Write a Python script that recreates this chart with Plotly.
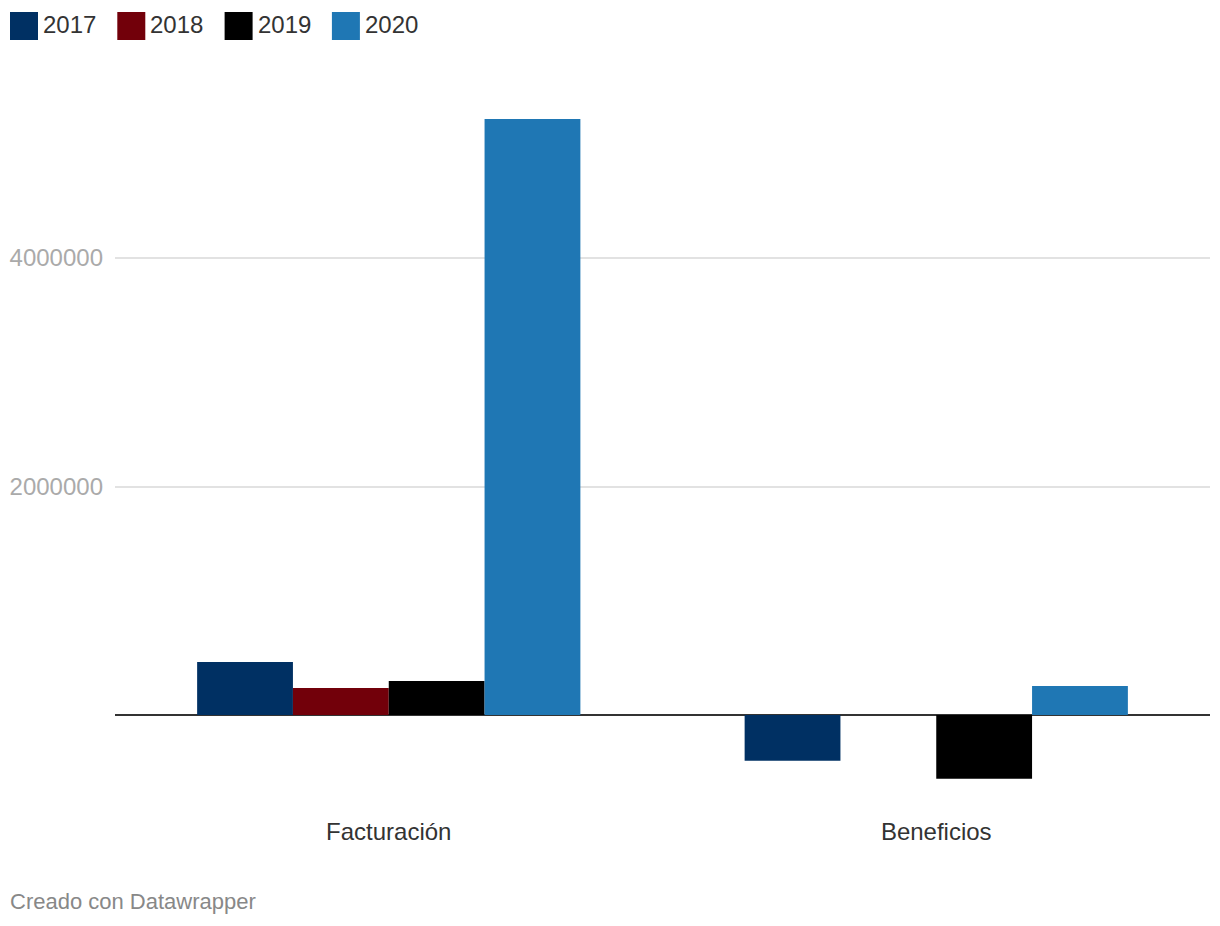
import plotly.graph_objects as go

categories = ["Facturación", "Beneficios"]
series_names = ["2017", "2018", "2019", "2020"]
values_2017 = [464000, -400000]
values_2018 = [236000, None]
values_2019 = [298000, -557000]
values_2020 = [5217000, 254000]
series_values = [values_2017, values_2018, values_2019, values_2020]
series_colors = ["#003063", "#72000a", "#000000", "#1f77b4"]
y_tick_values = [2000000, 4000000]
y_tick_labels = ["2000000", "4000000"]
footnote = "Creado con Datawrapper"

W, H = 1220, 926
# desired on-screen pixel positions of the plot area
SL, SR, ST, SB = 115, 1210, 100, 800
ZERO = 715
per_px = 4000000 / 457.0
y_top = (ZERO - ST) * per_px
y_bot = -(SB - ZERO) * per_px

FONT = "Liberation Sans, Arial, Helvetica, sans-serif"

fig = go.Figure()
for name, vals, col in zip(series_names, series_values, series_colors):
    fig.add_trace(go.Bar(x=categories, y=vals, name=name, marker=dict(color=col, line=dict(width=0)),
                         showlegend=False))

def px_x(p):
    return (p - SL) / (SR - SL)

def px_y(p):
    return (SB - p) / (SB - ST)

shapes = []
annotations = []
for i, (name, col) in enumerate(zip(series_names, series_colors)):
    x0 = 10 + i * 107.3
    shapes.append(dict(type="rect", xref="paper", yref="paper",
                       x0=px_x(x0), x1=px_x(x0 + 28), y0=px_y(40), y1=px_y(12),
                       fillcolor=col, line=dict(width=0), layer="above"))
    annotations.append(dict(xref="paper", yref="paper", x=px_x(x0 + 31), y=px_y(25),
                            xanchor="left", yanchor="middle", text=name, showarrow=False,
                            font=dict(family=FONT, size=24, color="#333333")))

annotations.append(dict(xref="paper", yref="paper", x=px_x(8), y=px_y(901),
                        xanchor="left", yanchor="middle", text=footnote, showarrow=False,
                        font=dict(family=FONT, size=22, color="#888888")))

fig.update_layout(
    width=W, height=H,
    margin=dict(l=SL, r=W - SR, t=ST, b=H - SB, pad=0),
    paper_bgcolor="white", plot_bgcolor="white",
    barmode="group", bargap=0.3, bargroupgap=0,
    font=dict(family=FONT, color="#333333"),
    shapes=shapes, annotations=annotations,
    xaxis=dict(showgrid=False, showline=False, zeroline=False, ticks="", automargin=False,
               tickfont=dict(family=FONT, size=24, color="#333333"),
               ticklabelstandoff=15),
    yaxis=dict(range=[y_bot, y_top], tickvals=y_tick_values, ticktext=y_tick_labels,
               showgrid=True, gridcolor="#e2e2e2", gridwidth=1.5, automargin=False,
               zeroline=True, zerolinecolor="#333333", zerolinewidth=2,
               showline=False, ticks="", ticklabelstandoff=11,
               tickfont=dict(family=FONT, size=24, color="#aaaaaa")),
)

fig.write_html("out.html", config={"displayModeBar": False},
               post_script="document.body.style.margin='0';document.body.style.overflow='hidden';")
